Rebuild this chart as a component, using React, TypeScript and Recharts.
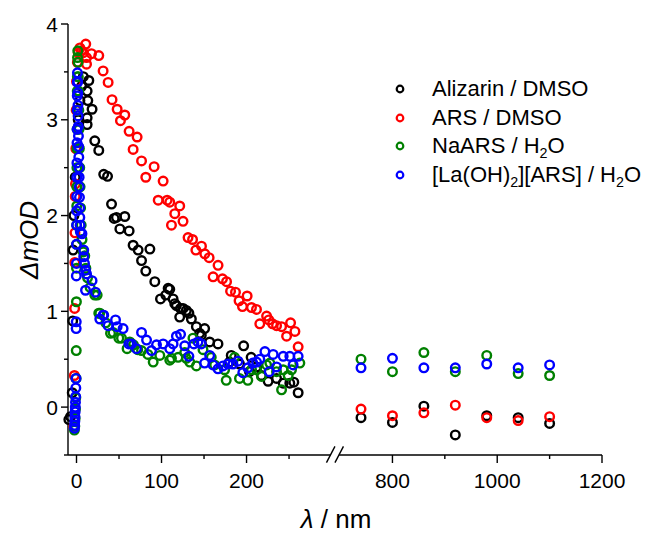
import { ScatterChart, Scatter, XAxis, YAxis, ReferenceLine, Legend } from "recharts";

// broken time axis: 0–300 drawn at full scale, 700–1200 squeezed on the right
const LEFT_END = 300;
const RIGHT_START = 700;
const RIGHT_START_U = 310;
const RIGHT_SCALE = 0.6162;
const toAxis = (t: number) => (t <= LEFT_END ? t : RIGHT_START_U + (t - RIGHT_START) * RIGHT_SCALE);
const fromAxis = (u: number) => (u <= LEFT_END ? u : RIGHT_START + (u - RIGHT_START_U) / RIGHT_SCALE);

const xTickValues = [0, 50, 100, 150, 200, 250, 800, 900, 1000, 1100, 1200];
const xMajor = [0, 100, 200, 800, 1000, 1200];
const yTickValues = [-0.5, 0, 0.5, 1, 1.5, 2, 2.5, 3, 3.5, 4];
const yMajor = [0, 1, 2, 3, 4];

// long-delay points (right of the break)
const farT = [740, 800, 860, 920, 980, 1040, 1100];

const alizarinNear: [number, number][] = [
  [-9, -0.13], [-7, -0.1], [-5, 0.15], [-4.5, 0.9], [-4, 1.64], [-3, 2.0], [-1.5, 2.4], [0, 2.7],
  [2, 3.0], [4, 3.2], [6, 3.35], [8, 3.45], [12.5, 3.3], [13.3, 3.2], [14.5, 3.41], [12.5, 3.02],
  [12.5, 2.95], [18.3, 3.11], [21.5, 2.78], [26.2, 2.68], [32, 2.43], [36.5, 2.41], [41.2, 2.12],
  [44.3, 1.97], [47, 1.98], [51, 1.86], [56.8, 1.99], [61.9, 1.84], [66.6, 1.69], [72.5, 1.64],
  [76.5, 1.53], [81.5, 1.42], [86.3, 1.65], [92.1, 1.31], [98.8, 1.13], [105, 1.17], [107.8, 1.24],
  [109.7, 1.23], [113.6, 1.13], [115.6, 1.08], [117.5, 1.06], [121.4, 0.94], [122.4, 1.03],
  [125.3, 1.03], [129.2, 1.01], [132.2, 0.98], [135.1, 0.92], [141, 0.84], [144.9, 0.77],
  [146.8, 0.75], [150.7, 0.82], [156.6, 0.68], [166.4, 0.66], [180, 0.47], [182, 0.54],
  [191.7, 0.45], [196.6, 0.64], [203.5, 0.37], [205.4, 0.52], [211.8, 0.42], [217.6, 0.33],
  [225.4, 0.27], [235.3, 0.3], [243.1, 0.25], [250.9, 0.25], [255.6, 0.26], [260.7, 0.15],
];
const alizarinFar = [-0.11, -0.16, 0.01, -0.29, -0.09, -0.11, -0.17];

const arsNear: [number, number][] = [
  [-3, -0.2], [-2.5, 0.33], [-2.2, 1.03], [-2, 1.51], [-1.8, 1.82], [-1.5, 2.2], [-1.2, 2.33],
  [-0.8, 2.7], [-0.4, 3.1], [0, 3.4], [1, 3.6], [2, 3.7], [4, 3.75], [6, 3.72], [8, 3.7],
  [10.9, 3.79], [17.6, 3.69], [26.2, 3.67], [11.8, 3.65], [11.8, 3.58], [31.3, 3.51], [37.2, 3.39],
  [41.8, 3.21], [47.8, 3.11], [56.8, 3.05], [51.7, 2.99], [61.9, 2.88], [71.3, 2.82], [66.6, 2.69],
  [76.5, 2.57], [91.3, 2.51], [81.5, 2.4], [101.9, 2.36], [96.1, 2.16], [106.6, 2.16], [109.7, 2.14],
  [121.4, 2.1], [115.6, 2.02], [125.3, 1.94], [111.7, 1.9], [131.2, 1.77], [136.5, 1.75], [147, 1.68],
  [140.4, 1.64], [150.9, 1.6], [156, 1.56], [166.5, 1.48], [160.7, 1.36], [171.7, 1.34], [176.5, 1.31],
  [181.2, 1.21], [187, 1.2], [191.2, 1.11], [200.7, 1.16], [195.2, 1.05], [205.8, 1.04], [211.7, 1.02],
  [215.6, 0.87], [223.6, 0.95], [226.2, 0.91], [230.6, 0.87], [235.3, 0.85], [241.2, 0.84],
  [251.8, 0.88], [256.9, 0.79], [247.1, 0.74], [260.7, 0.63],
];
const arsFar = [-0.02, -0.09, -0.06, 0.02, -0.11, -0.14, -0.1];

const naarsNear: [number, number][] = [
  [-2.5, -0.24], [-2, -0.2], [-1.6, -0.12], [-1.2, -0.02], [-0.8, 0.1], [-0.5, 0.3], [-0.3, 0.59],
  [-0.1, 1.1], [0, 1.45], [0.1, 1.7], [0.2, 1.9], [0.3, 2.1], [0.4, 2.3], [0.5, 2.5], [0.6, 2.7],
  [0.7, 2.9], [0.8, 3.1], [0.9, 3.3], [1, 3.45], [1.2, 3.65], [1.5, 3.72], [1.8, 3.6], [2.1, 3.45],
  [2.4, 3.3], [2.7, 3.1], [3, 2.9], [3.4, 2.7], [3.8, 2.5], [4.2, 2.3], [4.8, 2.08], [5.5, 1.9],
  [6.5, 1.75], [8, 1.62], [9.7, 1.58], [11, 1.45], [13, 1.35], [16, 1.25], [21.5, 1.17], [24.3, 1.17],
  [26.2, 0.98], [27.4, 0.98], [34.5, 0.88], [40, 0.77], [43, 0.78], [49.8, 0.72], [52.9, 0.72],
  [59.5, 0.61], [62.7, 0.68], [67, 0.65], [72, 0.6], [76.5, 0.59], [84, 0.55], [90.2, 0.47], [98, 0.54],
  [109.7, 0.49], [111.7, 0.51], [119.5, 0.52], [127.3, 0.57], [129.2, 0.51], [133.2, 0.47], [137, 0.72],
  [141, 0.43], [148.8, 0.6], [158.5, 0.52], [162.5, 0.44], [174.2, 0.39], [176.1, 0.28], [185.9, 0.52],
  [191.7, 0.3], [201.5, 0.28], [205.9, 0.39], [211.8, 0.39], [217.6, 0.32], [223.6, 0.44], [227.4, 0.46],
  [235.3, 0.37], [241.2, 0.18], [243.1, 0.39], [249, 0.33], [252.9, 0.39], [262.7, 0.46],
];
const naarsFar = [0.5, 0.37, 0.57, 0.37, 0.54, 0.35, 0.33];

const laNear: [number, number][] = [
  [-2.4, -0.22], [-2.2, -0.19], [-2, -0.15], [-1.8, -0.1], [-1.6, -0.05], [-1.4, 0], [-1.2, 0.05],
  [-1, 0.11], [-0.8, 0.2], [-0.6, 0.3], [-0.4, 0.82], [-0.3, 0.89], [-0.2, 1.37], [-0.1, 1.5],
  [0, 1.7], [0.1, 1.9], [0.2, 2.05], [0.3, 2.2], [0.4, 2.4], [0.5, 2.55], [0.6, 2.76], [0.7, 2.9],
  [0.8, 3.1], [0.9, 3.25], [1, 3.39], [1.1, 3.49], [1.3, 3.4], [1.5, 3.28], [1.7, 3.15], [1.9, 3.04],
  [2.1, 2.93], [2.3, 2.83], [2.5, 2.72], [2.7, 2.61], [2.9, 2.5], [3.1, 2.4], [3.3, 2.3], [3.5, 2.19],
  [3.7, 2.08], [3.9, 1.98], [4.2, 1.9], [4.5, 1.83], [6.4, 1.81], [8.5, 1.64], [8.5, 1.57], [9.4, 1.5],
  [10.6, 1.43], [11.8, 1.39], [10.6, 1.22], [18.3, 1.32], [22.3, 1.2], [27.4, 0.92], [31.3, 0.96],
  [32, 0.96], [37.2, 0.85], [45.9, 0.91], [47.8, 0.84], [54.8, 0.82], [61.6, 0.66], [64.7, 0.66],
  [70.5, 0.61], [76.5, 0.78], [82.4, 0.7], [88.2, 0.59], [94.1, 0.65], [101.9, 0.66], [109.7, 0.61],
  [113.6, 0.66], [117.5, 0.74], [122.4, 0.76], [127.3, 0.64], [132.2, 0.53], [138.1, 0.66],
  [142.9, 0.68], [146.8, 0.66], [150.7, 0.46], [156.6, 0.54], [160.5, 0.44], [166.4, 0.4],
  [172.3, 0.43], [178.2, 0.45], [184, 0.45], [190, 0.48], [195.6, 0.36], [201.5, 0.41], [207.4, 0.46],
  [211.8, 0.47], [215.6, 0.5], [221.6, 0.58], [226.7, 0.37], [231.3, 0.55], [235.3, 0.42],
  [243.1, 0.53], [250.9, 0.53], [254.8, 0.44], [260.7, 0.53],
];
const laFar = [0.41, 0.51, 0.41, 0.41, 0.45, 0.41, 0.44];

const FONT = '"Liberation Sans", Arial, sans-serif';

function build(near: [number, number][], far: number[]) {
  return [
    ...near.map(([t, v]) => ({ u: toAxis(t), v })),
    ...farT.map((t, i) => ({ u: toAxis(t), v: far[i] })),
  ];
}

const series = [
  { key: "aliz", color: "#000000", data: build(alizarinNear, alizarinFar), label: <>Alizarin / DMSO</> },
  { key: "ars", color: "#ff0000", data: build(arsNear, arsFar), label: <>ARS / DMSO</> },
  {
    key: "naars",
    color: "#008000",
    data: build(naarsNear, naarsFar),
    label: <>NaARS / H<sub style={{ fontSize: "0.65em", lineHeight: 0 }}>2</sub>O</>,
  },
  {
    key: "la",
    color: "#0000ff",
    data: build(laNear, laFar),
    label: (
      <>
        [La(OH)<sub style={{ fontSize: "0.65em", lineHeight: 0 }}>2</sub>][ARS] / H
        <sub style={{ fontSize: "0.65em", lineHeight: 0 }}>2</sub>O
      </>
    ),
  },
];

const ring = (color: string) => (props: any) =>
  <circle cx={props.cx} cy={props.cy} r={4.3} fill="none" stroke={color} strokeWidth={2.4} />;

function XTick({ x, y, payload }: any) {
  const t = Math.round(fromAxis(payload.value));
  const major = xMajor.includes(t);
  return (
    <g>
      <line x1={x} x2={x} y1={y} y2={y + (major ? 8 : 4)} stroke="#000" strokeWidth={1.4} />
      {major && (
        <text x={x} y={y + 33} textAnchor="middle" fontSize={21} fill="#000" fontFamily={FONT}>
          {t}
        </text>
      )}
    </g>
  );
}

function YTick({ x, y, payload }: any) {
  const major = yMajor.includes(payload.value);
  return (
    <g>
      <line x1={x} x2={x - (major ? 7 : 4)} y1={y} y2={y} stroke="#000" strokeWidth={1.4} />
      {major && (
        <text x={x - 10} y={y + 7.5} textAnchor="end" fontSize={21} fill="#000" fontFamily={FONT}>
          {payload.value}
        </text>
      )}
    </g>
  );
}

function LegendBox() {
  return (
    <div style={{ fontFamily: FONT, fontSize: 22, color: "#000" }}>
      {series.map((s) => (
        <div key={s.key} style={{ display: "flex", alignItems: "center", height: 28.5, whiteSpace: "nowrap" }}>
          <svg width={24} height={12} style={{ marginRight: 20 }}>
            <circle cx={12} cy={6} r={3.3} fill="none" stroke={s.color} strokeWidth={2.2} />
          </svg>
          <span>{s.label}</span>
        </div>
      ))}
    </div>
  );
}

export default function App() {
  return (
    <div style={{ position: "absolute", left: 0, top: 0, background: "#fff" }}>
      <ScatterChart
        width={647}
        height={534}
        margin={{ top: 24, right: 45, bottom: 0, left: 0 }}
        style={{ fontFamily: FONT }}
      >
        <XAxis
          type="number"
          dataKey="u"
          domain={[-10, toAxis(1200)]}
          ticks={xTickValues.map(toAxis)}
          interval={0}
          tickSize={0}
          tickMargin={0}
          axisLine={false}
          tickLine={false}
          tick={<XTick />}
          height={79}
          label={{
            content: () => (
              <text x={336} y={528} textAnchor="middle" fontSize={26} fill="#000" fontFamily={FONT}>
                <tspan fontStyle="italic">λ</tspan> / nm
              </text>
            ),
          }}
        />
        <YAxis
          type="number"
          dataKey="v"
          domain={[-0.5, 4]}
          ticks={yTickValues}
          interval={0}
          tickSize={0}
          tickMargin={0}
          width={68}
          axisLine={{ stroke: "#000", strokeWidth: 1.4 }}
          tickLine={false}
          tick={<YTick />}
          label={{
            content: () => (
              <text
                x={38}
                y={240}
                transform="rotate(-90, 38, 240)"
                textAnchor="middle"
                fontSize={26}
                fontStyle="italic"
                fill="#000"
                fontFamily={FONT}
              >
                ΔmOD
              </text>
            ),
          }}
        />
        <ReferenceLine
          segment={[{ x: -10, y: -0.5 }, { x: 299, y: -0.5 }]}
          stroke="#000"
          strokeWidth={1.4}
          ifOverflow="visible"
        />
        <ReferenceLine
          segment={[{ x: 309, y: -0.5 }, { x: toAxis(1200), y: -0.5 }]}
          stroke="#000"
          strokeWidth={1.4}
          ifOverflow="visible"
        />
        <ReferenceLine
          segment={[{ x: 294, y: -0.58 }, { x: 304, y: -0.41 }]}
          stroke="#000"
          strokeWidth={1.4}
          ifOverflow="visible"
        />
        <ReferenceLine
          segment={[{ x: 304, y: -0.58 }, { x: 314, y: -0.41 }]}
          stroke="#000"
          strokeWidth={1.4}
          ifOverflow="visible"
        />
        {series.map((s) => (
          <Scatter
            key={s.key}
            name={s.key}
            data={s.data}
            shape={ring(s.color)}
            isAnimationActive={false}
          />
        ))}
        <Legend
          layout="vertical"
          align="center"
          verticalAlign="middle"
          wrapperStyle={{ left: 388, top: 75, width: 259 }}
          content={<LegendBox />}
        />
      </ScatterChart>
    </div>
  );
}
